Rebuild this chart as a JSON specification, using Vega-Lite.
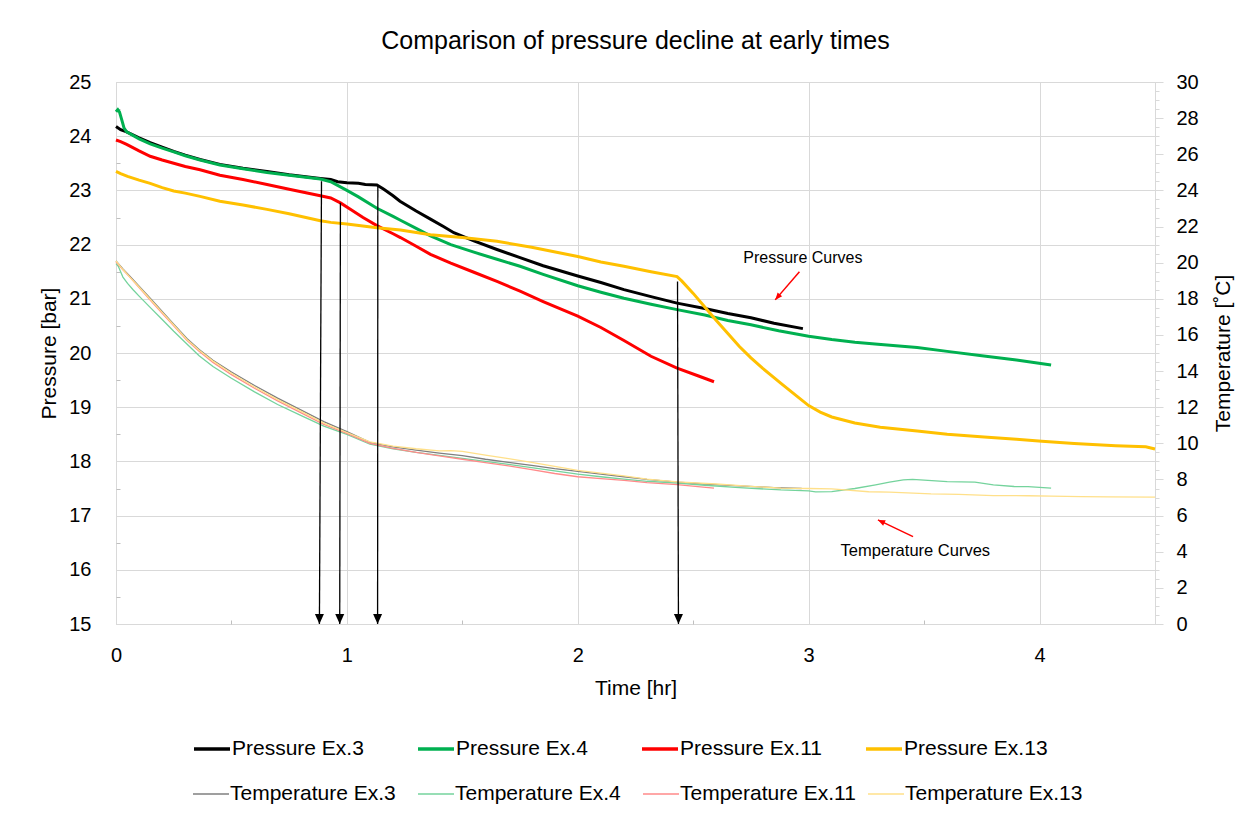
{
  "$schema": "https://vega.github.io/schema/vega-lite/v6.json",
  "width": 1039,
  "height": 542,
  "autosize": {"type": "none"},
  "padding": {"left": 116, "top": 82, "right": 103, "bottom": 194},
  "background": "#ffffff",
  "title": {"text": "Comparison of pressure decline at early times", "fontSize": 25, "fontWeight": "normal", "color": "#000000", "anchor": "middle", "frame": "group", "offset": 18},
  "datasets": {
    "pressure": [
      {"series": "Pressure Ex.3", "t": 0, "v": 24.18}, {"series": "Pressure Ex.3", "t": 0.02, "v": 24.12}, {"series": "Pressure Ex.3", "t": 0.046, "v": 24.08}, {"series": "Pressure Ex.3", "t": 0.1, "v": 23.97}, {"series": "Pressure Ex.3", "t": 0.148, "v": 23.88}, {"series": "Pressure Ex.3", "t": 0.2, "v": 23.8}, {"series": "Pressure Ex.3", "t": 0.25, "v": 23.72}, {"series": "Pressure Ex.3", "t": 0.3, "v": 23.65}, {"series": "Pressure Ex.3", "t": 0.364, "v": 23.57}, {"series": "Pressure Ex.3", "t": 0.45, "v": 23.48}, {"series": "Pressure Ex.3", "t": 0.55, "v": 23.41}, {"series": "Pressure Ex.3", "t": 0.654, "v": 23.35}, {"series": "Pressure Ex.3", "t": 0.75, "v": 23.29}, {"series": "Pressure Ex.3", "t": 0.885, "v": 23.22}, {"series": "Pressure Ex.3", "t": 0.93, "v": 23.2}, {"series": "Pressure Ex.3", "t": 0.96, "v": 23.16}, {"series": "Pressure Ex.3", "t": 1.0, "v": 23.14}, {"series": "Pressure Ex.3", "t": 1.05, "v": 23.13}, {"series": "Pressure Ex.3", "t": 1.08, "v": 23.11}, {"series": "Pressure Ex.3", "t": 1.13, "v": 23.1}, {"series": "Pressure Ex.3", "t": 1.16, "v": 23.02}, {"series": "Pressure Ex.3", "t": 1.2, "v": 22.9}, {"series": "Pressure Ex.3", "t": 1.23, "v": 22.8}, {"series": "Pressure Ex.3", "t": 1.3, "v": 22.62}, {"series": "Pressure Ex.3", "t": 1.362, "v": 22.47}, {"series": "Pressure Ex.3", "t": 1.42, "v": 22.33}, {"series": "Pressure Ex.3", "t": 1.463, "v": 22.22}, {"series": "Pressure Ex.3", "t": 1.55, "v": 22.07}, {"series": "Pressure Ex.3", "t": 1.65, "v": 21.91}, {"series": "Pressure Ex.3", "t": 1.75, "v": 21.76}, {"series": "Pressure Ex.3", "t": 1.85, "v": 21.61}, {"series": "Pressure Ex.3", "t": 2.0, "v": 21.42}, {"series": "Pressure Ex.3", "t": 2.1, "v": 21.3}, {"series": "Pressure Ex.3", "t": 2.2, "v": 21.17}, {"series": "Pressure Ex.3", "t": 2.317, "v": 21.04}, {"series": "Pressure Ex.3", "t": 2.43, "v": 20.92}, {"series": "Pressure Ex.3", "t": 2.55, "v": 20.82}, {"series": "Pressure Ex.3", "t": 2.65, "v": 20.73}, {"series": "Pressure Ex.3", "t": 2.75, "v": 20.65}, {"series": "Pressure Ex.3", "t": 2.85, "v": 20.55}, {"series": "Pressure Ex.3", "t": 2.975, "v": 20.45},
      {"series": "Pressure Ex.4", "t": 0, "v": 24.45}, {"series": "Pressure Ex.4", "t": 0.008, "v": 24.49}, {"series": "Pressure Ex.4", "t": 0.015, "v": 24.45}, {"series": "Pressure Ex.4", "t": 0.025, "v": 24.3}, {"series": "Pressure Ex.4", "t": 0.035, "v": 24.15}, {"series": "Pressure Ex.4", "t": 0.046, "v": 24.08}, {"series": "Pressure Ex.4", "t": 0.1, "v": 23.95}, {"series": "Pressure Ex.4", "t": 0.148, "v": 23.86}, {"series": "Pressure Ex.4", "t": 0.2, "v": 23.78}, {"series": "Pressure Ex.4", "t": 0.25, "v": 23.71}, {"series": "Pressure Ex.4", "t": 0.3, "v": 23.64}, {"series": "Pressure Ex.4", "t": 0.364, "v": 23.56}, {"series": "Pressure Ex.4", "t": 0.45, "v": 23.47}, {"series": "Pressure Ex.4", "t": 0.55, "v": 23.4}, {"series": "Pressure Ex.4", "t": 0.654, "v": 23.33}, {"series": "Pressure Ex.4", "t": 0.75, "v": 23.28}, {"series": "Pressure Ex.4", "t": 0.885, "v": 23.21}, {"series": "Pressure Ex.4", "t": 0.93, "v": 23.16}, {"series": "Pressure Ex.4", "t": 1.0, "v": 23.0}, {"series": "Pressure Ex.4", "t": 1.05, "v": 22.88}, {"series": "Pressure Ex.4", "t": 1.13, "v": 22.67}, {"series": "Pressure Ex.4", "t": 1.2, "v": 22.52}, {"series": "Pressure Ex.4", "t": 1.232, "v": 22.45}, {"series": "Pressure Ex.4", "t": 1.3, "v": 22.3}, {"series": "Pressure Ex.4", "t": 1.362, "v": 22.16}, {"series": "Pressure Ex.4", "t": 1.45, "v": 22.0}, {"series": "Pressure Ex.4", "t": 1.55, "v": 21.86}, {"series": "Pressure Ex.4", "t": 1.65, "v": 21.73}, {"series": "Pressure Ex.4", "t": 1.75, "v": 21.6}, {"series": "Pressure Ex.4", "t": 1.85, "v": 21.45}, {"series": "Pressure Ex.4", "t": 2.0, "v": 21.24}, {"series": "Pressure Ex.4", "t": 2.1, "v": 21.12}, {"series": "Pressure Ex.4", "t": 2.2, "v": 21.01}, {"series": "Pressure Ex.4", "t": 2.317, "v": 20.9}, {"series": "Pressure Ex.4", "t": 2.43, "v": 20.8}, {"series": "Pressure Ex.4", "t": 2.55, "v": 20.7}, {"series": "Pressure Ex.4", "t": 2.65, "v": 20.6}, {"series": "Pressure Ex.4", "t": 2.75, "v": 20.52}, {"series": "Pressure Ex.4", "t": 2.87, "v": 20.41}, {"series": "Pressure Ex.4", "t": 3.0, "v": 20.31}, {"series": "Pressure Ex.4", "t": 3.1, "v": 20.25}, {"series": "Pressure Ex.4", "t": 3.2, "v": 20.2}, {"series": "Pressure Ex.4", "t": 3.3, "v": 20.16}, {"series": "Pressure Ex.4", "t": 3.47, "v": 20.1}, {"series": "Pressure Ex.4", "t": 3.6, "v": 20.03}, {"series": "Pressure Ex.4", "t": 3.75, "v": 19.95}, {"series": "Pressure Ex.4", "t": 3.9, "v": 19.87}, {"series": "Pressure Ex.4", "t": 4.05, "v": 19.78},
      {"series": "Pressure Ex.11", "t": 0, "v": 23.93}, {"series": "Pressure Ex.11", "t": 0.02, "v": 23.9}, {"series": "Pressure Ex.11", "t": 0.046, "v": 23.85}, {"series": "Pressure Ex.11", "t": 0.1, "v": 23.73}, {"series": "Pressure Ex.11", "t": 0.148, "v": 23.63}, {"series": "Pressure Ex.11", "t": 0.2, "v": 23.56}, {"series": "Pressure Ex.11", "t": 0.25, "v": 23.5}, {"series": "Pressure Ex.11", "t": 0.3, "v": 23.44}, {"series": "Pressure Ex.11", "t": 0.364, "v": 23.38}, {"series": "Pressure Ex.11", "t": 0.45, "v": 23.28}, {"series": "Pressure Ex.11", "t": 0.55, "v": 23.2}, {"series": "Pressure Ex.11", "t": 0.654, "v": 23.11}, {"series": "Pressure Ex.11", "t": 0.75, "v": 23.02}, {"series": "Pressure Ex.11", "t": 0.885, "v": 22.9}, {"series": "Pressure Ex.11", "t": 0.93, "v": 22.86}, {"series": "Pressure Ex.11", "t": 0.972, "v": 22.77}, {"series": "Pressure Ex.11", "t": 1.02, "v": 22.64}, {"series": "Pressure Ex.11", "t": 1.07, "v": 22.5}, {"series": "Pressure Ex.11", "t": 1.13, "v": 22.35}, {"series": "Pressure Ex.11", "t": 1.2, "v": 22.2}, {"series": "Pressure Ex.11", "t": 1.232, "v": 22.13}, {"series": "Pressure Ex.11", "t": 1.3, "v": 21.97}, {"series": "Pressure Ex.11", "t": 1.362, "v": 21.82}, {"series": "Pressure Ex.11", "t": 1.45, "v": 21.66}, {"series": "Pressure Ex.11", "t": 1.55, "v": 21.49}, {"series": "Pressure Ex.11", "t": 1.65, "v": 21.32}, {"series": "Pressure Ex.11", "t": 1.75, "v": 21.14}, {"series": "Pressure Ex.11", "t": 1.85, "v": 20.95}, {"series": "Pressure Ex.11", "t": 2.0, "v": 20.68}, {"series": "Pressure Ex.11", "t": 2.1, "v": 20.47}, {"series": "Pressure Ex.11", "t": 2.2, "v": 20.23}, {"series": "Pressure Ex.11", "t": 2.317, "v": 19.94}, {"series": "Pressure Ex.11", "t": 2.43, "v": 19.72}, {"series": "Pressure Ex.11", "t": 2.52, "v": 19.58}, {"series": "Pressure Ex.11", "t": 2.59, "v": 19.47},
      {"series": "Pressure Ex.13", "t": 0, "v": 23.35}, {"series": "Pressure Ex.13", "t": 0.02, "v": 23.31}, {"series": "Pressure Ex.13", "t": 0.05, "v": 23.26}, {"series": "Pressure Ex.13", "t": 0.1, "v": 23.19}, {"series": "Pressure Ex.13", "t": 0.148, "v": 23.13}, {"series": "Pressure Ex.13", "t": 0.2, "v": 23.05}, {"series": "Pressure Ex.13", "t": 0.25, "v": 22.99}, {"series": "Pressure Ex.13", "t": 0.3, "v": 22.95}, {"series": "Pressure Ex.13", "t": 0.364, "v": 22.89}, {"series": "Pressure Ex.13", "t": 0.45, "v": 22.8}, {"series": "Pressure Ex.13", "t": 0.55, "v": 22.73}, {"series": "Pressure Ex.13", "t": 0.654, "v": 22.65}, {"series": "Pressure Ex.13", "t": 0.75, "v": 22.57}, {"series": "Pressure Ex.13", "t": 0.885, "v": 22.44}, {"series": "Pressure Ex.13", "t": 0.93, "v": 22.41}, {"series": "Pressure Ex.13", "t": 1.0, "v": 22.38}, {"series": "Pressure Ex.13", "t": 1.13, "v": 22.31}, {"series": "Pressure Ex.13", "t": 1.232, "v": 22.27}, {"series": "Pressure Ex.13", "t": 1.362, "v": 22.18}, {"series": "Pressure Ex.13", "t": 1.5, "v": 22.13}, {"series": "Pressure Ex.13", "t": 1.65, "v": 22.06}, {"series": "Pressure Ex.13", "t": 1.8, "v": 21.95}, {"series": "Pressure Ex.13", "t": 2.0, "v": 21.78}, {"series": "Pressure Ex.13", "t": 2.1, "v": 21.68}, {"series": "Pressure Ex.13", "t": 2.2, "v": 21.6}, {"series": "Pressure Ex.13", "t": 2.317, "v": 21.5}, {"series": "Pressure Ex.13", "t": 2.43, "v": 21.41}, {"series": "Pressure Ex.13", "t": 2.45, "v": 21.33}, {"series": "Pressure Ex.13", "t": 2.5, "v": 21.1}, {"series": "Pressure Ex.13", "t": 2.55, "v": 20.85}, {"series": "Pressure Ex.13", "t": 2.6, "v": 20.6}, {"series": "Pressure Ex.13", "t": 2.65, "v": 20.36}, {"series": "Pressure Ex.13", "t": 2.7, "v": 20.12}, {"series": "Pressure Ex.13", "t": 2.75, "v": 19.91}, {"series": "Pressure Ex.13", "t": 2.8, "v": 19.72}, {"series": "Pressure Ex.13", "t": 2.88, "v": 19.44}, {"series": "Pressure Ex.13", "t": 2.95, "v": 19.2}, {"series": "Pressure Ex.13", "t": 3.0, "v": 19.03}, {"series": "Pressure Ex.13", "t": 3.05, "v": 18.91}, {"series": "Pressure Ex.13", "t": 3.1, "v": 18.82}, {"series": "Pressure Ex.13", "t": 3.2, "v": 18.71}, {"series": "Pressure Ex.13", "t": 3.31, "v": 18.63}, {"series": "Pressure Ex.13", "t": 3.47, "v": 18.56}, {"series": "Pressure Ex.13", "t": 3.6, "v": 18.5}, {"series": "Pressure Ex.13", "t": 3.76, "v": 18.45}, {"series": "Pressure Ex.13", "t": 3.9, "v": 18.41}, {"series": "Pressure Ex.13", "t": 4.01, "v": 18.37}, {"series": "Pressure Ex.13", "t": 4.15, "v": 18.33}, {"series": "Pressure Ex.13", "t": 4.33, "v": 18.29}, {"series": "Pressure Ex.13", "t": 4.46, "v": 18.27}, {"series": "Pressure Ex.13", "t": 4.5, "v": 18.23}
    ],
    "temperature": [
      {"series": "Temperature Ex.3", "t": 0, "v": 20.1}, {"series": "Temperature Ex.3", "t": 0.03, "v": 19.65}, {"series": "Temperature Ex.3", "t": 0.06, "v": 19.25}, {"series": "Temperature Ex.3", "t": 0.1, "v": 18.7}, {"series": "Temperature Ex.3", "t": 0.15, "v": 18.0}, {"series": "Temperature Ex.3", "t": 0.2, "v": 17.3}, {"series": "Temperature Ex.3", "t": 0.25, "v": 16.6}, {"series": "Temperature Ex.3", "t": 0.307, "v": 15.8}, {"series": "Temperature Ex.3", "t": 0.36, "v": 15.2}, {"series": "Temperature Ex.3", "t": 0.42, "v": 14.6}, {"series": "Temperature Ex.3", "t": 0.5, "v": 13.95}, {"series": "Temperature Ex.3", "t": 0.6, "v": 13.2}, {"series": "Temperature Ex.3", "t": 0.7, "v": 12.5}, {"series": "Temperature Ex.3", "t": 0.8, "v": 11.85}, {"series": "Temperature Ex.3", "t": 0.9, "v": 11.2}, {"series": "Temperature Ex.3", "t": 1.0, "v": 10.65}, {"series": "Temperature Ex.3", "t": 1.1, "v": 10.05}, {"series": "Temperature Ex.3", "t": 1.2, "v": 9.8}, {"series": "Temperature Ex.3", "t": 1.3, "v": 9.62}, {"series": "Temperature Ex.3", "t": 1.4, "v": 9.46}, {"series": "Temperature Ex.3", "t": 1.5, "v": 9.32}, {"series": "Temperature Ex.3", "t": 1.6, "v": 9.12}, {"series": "Temperature Ex.3", "t": 1.7, "v": 8.95}, {"series": "Temperature Ex.3", "t": 1.8, "v": 8.78}, {"series": "Temperature Ex.3", "t": 1.9, "v": 8.6}, {"series": "Temperature Ex.3", "t": 2.0, "v": 8.45}, {"series": "Temperature Ex.3", "t": 2.1, "v": 8.3}, {"series": "Temperature Ex.3", "t": 2.2, "v": 8.15}, {"series": "Temperature Ex.3", "t": 2.3, "v": 8.0}, {"series": "Temperature Ex.3", "t": 2.43, "v": 7.85}, {"series": "Temperature Ex.3", "t": 2.55, "v": 7.75}, {"series": "Temperature Ex.3", "t": 2.7, "v": 7.65}, {"series": "Temperature Ex.3", "t": 2.85, "v": 7.55}, {"series": "Temperature Ex.3", "t": 2.97, "v": 7.5},
      {"series": "Temperature Ex.4", "t": 0, "v": 19.95}, {"series": "Temperature Ex.4", "t": 0.01, "v": 19.8}, {"series": "Temperature Ex.4", "t": 0.02, "v": 19.5}, {"series": "Temperature Ex.4", "t": 0.03, "v": 19.2}, {"series": "Temperature Ex.4", "t": 0.05, "v": 18.85}, {"series": "Temperature Ex.4", "t": 0.074, "v": 18.5}, {"series": "Temperature Ex.4", "t": 0.1, "v": 18.15}, {"series": "Temperature Ex.4", "t": 0.15, "v": 17.5}, {"series": "Temperature Ex.4", "t": 0.2, "v": 16.85}, {"series": "Temperature Ex.4", "t": 0.25, "v": 16.2}, {"series": "Temperature Ex.4", "t": 0.307, "v": 15.5}, {"series": "Temperature Ex.4", "t": 0.36, "v": 14.85}, {"series": "Temperature Ex.4", "t": 0.42, "v": 14.25}, {"series": "Temperature Ex.4", "t": 0.5, "v": 13.6}, {"series": "Temperature Ex.4", "t": 0.6, "v": 12.85}, {"series": "Temperature Ex.4", "t": 0.7, "v": 12.15}, {"series": "Temperature Ex.4", "t": 0.8, "v": 11.55}, {"series": "Temperature Ex.4", "t": 0.9, "v": 10.95}, {"series": "Temperature Ex.4", "t": 1.0, "v": 10.5}, {"series": "Temperature Ex.4", "t": 1.1, "v": 9.95}, {"series": "Temperature Ex.4", "t": 1.2, "v": 9.7}, {"series": "Temperature Ex.4", "t": 1.3, "v": 9.5}, {"series": "Temperature Ex.4", "t": 1.4, "v": 9.33}, {"series": "Temperature Ex.4", "t": 1.5, "v": 9.17}, {"series": "Temperature Ex.4", "t": 1.6, "v": 9.0}, {"series": "Temperature Ex.4", "t": 1.7, "v": 8.83}, {"series": "Temperature Ex.4", "t": 1.8, "v": 8.65}, {"series": "Temperature Ex.4", "t": 1.9, "v": 8.48}, {"series": "Temperature Ex.4", "t": 2.0, "v": 8.3}, {"series": "Temperature Ex.4", "t": 2.1, "v": 8.15}, {"series": "Temperature Ex.4", "t": 2.2, "v": 8.02}, {"series": "Temperature Ex.4", "t": 2.3, "v": 7.9}, {"series": "Temperature Ex.4", "t": 2.43, "v": 7.8}, {"series": "Temperature Ex.4", "t": 2.55, "v": 7.68}, {"series": "Temperature Ex.4", "t": 2.7, "v": 7.55}, {"series": "Temperature Ex.4", "t": 2.88, "v": 7.42}, {"series": "Temperature Ex.4", "t": 3.0, "v": 7.37}, {"series": "Temperature Ex.4", "t": 3.03, "v": 7.31}, {"series": "Temperature Ex.4", "t": 3.1, "v": 7.33}, {"series": "Temperature Ex.4", "t": 3.2, "v": 7.5}, {"series": "Temperature Ex.4", "t": 3.29, "v": 7.7}, {"series": "Temperature Ex.4", "t": 3.35, "v": 7.85}, {"series": "Temperature Ex.4", "t": 3.41, "v": 7.98}, {"series": "Temperature Ex.4", "t": 3.45, "v": 8.0}, {"series": "Temperature Ex.4", "t": 3.6, "v": 7.88}, {"series": "Temperature Ex.4", "t": 3.72, "v": 7.85}, {"series": "Temperature Ex.4", "t": 3.8, "v": 7.7}, {"series": "Temperature Ex.4", "t": 3.89, "v": 7.61}, {"series": "Temperature Ex.4", "t": 3.95, "v": 7.6}, {"series": "Temperature Ex.4", "t": 4.05, "v": 7.52},
      {"series": "Temperature Ex.11", "t": 0, "v": 20.05}, {"series": "Temperature Ex.11", "t": 0.03, "v": 19.6}, {"series": "Temperature Ex.11", "t": 0.06, "v": 19.2}, {"series": "Temperature Ex.11", "t": 0.1, "v": 18.62}, {"series": "Temperature Ex.11", "t": 0.15, "v": 17.9}, {"series": "Temperature Ex.11", "t": 0.2, "v": 17.2}, {"series": "Temperature Ex.11", "t": 0.25, "v": 16.5}, {"series": "Temperature Ex.11", "t": 0.307, "v": 15.7}, {"series": "Temperature Ex.11", "t": 0.36, "v": 15.1}, {"series": "Temperature Ex.11", "t": 0.42, "v": 14.48}, {"series": "Temperature Ex.11", "t": 0.5, "v": 13.8}, {"series": "Temperature Ex.11", "t": 0.6, "v": 13.05}, {"series": "Temperature Ex.11", "t": 0.7, "v": 12.35}, {"series": "Temperature Ex.11", "t": 0.8, "v": 11.7}, {"series": "Temperature Ex.11", "t": 0.9, "v": 11.05}, {"series": "Temperature Ex.11", "t": 1.0, "v": 10.55}, {"series": "Temperature Ex.11", "t": 1.1, "v": 10.0}, {"series": "Temperature Ex.11", "t": 1.2, "v": 9.72}, {"series": "Temperature Ex.11", "t": 1.3, "v": 9.5}, {"series": "Temperature Ex.11", "t": 1.4, "v": 9.3}, {"series": "Temperature Ex.11", "t": 1.5, "v": 9.12}, {"series": "Temperature Ex.11", "t": 1.6, "v": 8.93}, {"series": "Temperature Ex.11", "t": 1.7, "v": 8.75}, {"series": "Temperature Ex.11", "t": 1.8, "v": 8.55}, {"series": "Temperature Ex.11", "t": 1.9, "v": 8.33}, {"series": "Temperature Ex.11", "t": 2.0, "v": 8.15}, {"series": "Temperature Ex.11", "t": 2.1, "v": 8.05}, {"series": "Temperature Ex.11", "t": 2.2, "v": 7.95}, {"series": "Temperature Ex.11", "t": 2.3, "v": 7.83}, {"series": "Temperature Ex.11", "t": 2.43, "v": 7.72}, {"series": "Temperature Ex.11", "t": 2.52, "v": 7.6}, {"series": "Temperature Ex.11", "t": 2.59, "v": 7.52},
      {"series": "Temperature Ex.13", "t": 0, "v": 20.1}, {"series": "Temperature Ex.13", "t": 0.03, "v": 19.62}, {"series": "Temperature Ex.13", "t": 0.06, "v": 19.2}, {"series": "Temperature Ex.13", "t": 0.1, "v": 18.65}, {"series": "Temperature Ex.13", "t": 0.15, "v": 17.95}, {"series": "Temperature Ex.13", "t": 0.2, "v": 17.25}, {"series": "Temperature Ex.13", "t": 0.25, "v": 16.55}, {"series": "Temperature Ex.13", "t": 0.307, "v": 15.75}, {"series": "Temperature Ex.13", "t": 0.36, "v": 15.15}, {"series": "Temperature Ex.13", "t": 0.42, "v": 14.55}, {"series": "Temperature Ex.13", "t": 0.5, "v": 13.88}, {"series": "Temperature Ex.13", "t": 0.6, "v": 13.12}, {"series": "Temperature Ex.13", "t": 0.7, "v": 12.42}, {"series": "Temperature Ex.13", "t": 0.8, "v": 11.78}, {"series": "Temperature Ex.13", "t": 0.9, "v": 11.12}, {"series": "Temperature Ex.13", "t": 1.0, "v": 10.6}, {"series": "Temperature Ex.13", "t": 1.1, "v": 10.08}, {"series": "Temperature Ex.13", "t": 1.2, "v": 9.85}, {"series": "Temperature Ex.13", "t": 1.3, "v": 9.7}, {"series": "Temperature Ex.13", "t": 1.4, "v": 9.58}, {"series": "Temperature Ex.13", "t": 1.45, "v": 9.6}, {"series": "Temperature Ex.13", "t": 1.5, "v": 9.55}, {"series": "Temperature Ex.13", "t": 1.6, "v": 9.35}, {"series": "Temperature Ex.13", "t": 1.7, "v": 9.15}, {"series": "Temperature Ex.13", "t": 1.8, "v": 8.95}, {"series": "Temperature Ex.13", "t": 1.9, "v": 8.72}, {"series": "Temperature Ex.13", "t": 2.0, "v": 8.5}, {"series": "Temperature Ex.13", "t": 2.1, "v": 8.35}, {"series": "Temperature Ex.13", "t": 2.2, "v": 8.2}, {"series": "Temperature Ex.13", "t": 2.3, "v": 8.02}, {"series": "Temperature Ex.13", "t": 2.43, "v": 7.87}, {"series": "Temperature Ex.13", "t": 2.6, "v": 7.75}, {"series": "Temperature Ex.13", "t": 2.75, "v": 7.62}, {"series": "Temperature Ex.13", "t": 2.88, "v": 7.52}, {"series": "Temperature Ex.13", "t": 3.0, "v": 7.5}, {"series": "Temperature Ex.13", "t": 3.1, "v": 7.48}, {"series": "Temperature Ex.13", "t": 3.26, "v": 7.32}, {"series": "Temperature Ex.13", "t": 3.35, "v": 7.3}, {"series": "Temperature Ex.13", "t": 3.53, "v": 7.2}, {"series": "Temperature Ex.13", "t": 3.65, "v": 7.18}, {"series": "Temperature Ex.13", "t": 3.8, "v": 7.11}, {"series": "Temperature Ex.13", "t": 3.95, "v": 7.1}, {"series": "Temperature Ex.13", "t": 4.05, "v": 7.08}, {"series": "Temperature Ex.13", "t": 4.18, "v": 7.05}, {"series": "Temperature Ex.13", "t": 4.3, "v": 7.04}, {"series": "Temperature Ex.13", "t": 4.5, "v": 7.02}
    ],
    "drops": [
      {"t": 0.89, "tb": 0.881, "top": 23.17, "bottom": 15},
      {"t": 0.972, "tb": 0.969, "top": 22.77, "bottom": 15},
      {"t": 1.134, "tb": 1.133, "top": 23.08, "bottom": 15},
      {"t": 2.432, "tb": 2.436, "top": 21.32, "bottom": 15}
    ]
  },
  "layer": [
    {
      "data": {"name": "temperature"},
      "mark": {"type": "line", "strokeWidth": 1.3},
      "encoding": {
        "x": {"field": "t", "type": "quantitative", "scale": {"domain": [0, 4.5], "nice": false, "zero": false}, "axis": null},
        "y": {"field": "v", "type": "quantitative", "scale": {"domain": [0, 30], "nice": false, "zero": false},
          "axis": {"orient": "right", "values": [0, 2, 4, 6, 8, 10, 12, 14, 16, 18, 20, 22, 24, 26, 28, 30], "grid": false, "ticks": true, "tickSize": 8, "labelPadding": 13, "title": "Temperature [˚C]", "titleAngle": -90, "titleBaseline": "top", "titlePadding": 14}},
        "stroke": {"field": "series", "type": "nominal",
          "scale": {"domain": ["Temperature Ex.3", "Temperature Ex.4", "Temperature Ex.11", "Temperature Ex.13"], "range": ["#7f7f7f", "#74d39c", "#ff8a8a", "#ffe08a"]},
          "legend": {"orient": "none", "legendX": 76, "legendY": 693, "direction": "horizontal", "columns": 4, "title": null,
            "symbolType": "stroke", "symbolSize": 1296, "symbolStrokeWidth": 1.4, "labelFontSize": 21, "labelOffset": 0, "labelLimit": 400,
            "columnPadding": 7, "gridAlign": "all", "labelColor": "#000000"}}
      }
    },
    {
      "data": {"name": "pressure"},
      "mark": {"type": "line", "strokeWidth": 3},
      "encoding": {
        "x": {"field": "t", "type": "quantitative", "scale": {"domain": [0, 4.5], "nice": false, "zero": false},
          "axis": {"orient": "bottom", "values": [0, 1, 2, 3, 4], "grid": true, "ticks": false, "labelFlush": false, "labelPadding": 21, "title": "Time [hr]", "titlePadding": 12}},
        "y": {"field": "v", "type": "quantitative", "scale": {"domain": [15, 25], "nice": false, "zero": false},
          "axis": {"orient": "left", "values": [15, 16, 17, 18, 19, 20, 21, 22, 23, 24, 25], "grid": true, "ticks": false, "labelPadding": 25, "title": "Pressure [bar]", "titlePadding": 9}},
        "color": {"field": "series", "type": "nominal",
          "scale": {"domain": ["Pressure Ex.3", "Pressure Ex.4", "Pressure Ex.11", "Pressure Ex.13"], "range": ["#000000", "#00b050", "#ff0000", "#ffc000"]},
          "legend": {"orient": "none", "legendX": 76, "legendY": 647, "direction": "horizontal", "columns": 4, "title": null,
            "symbolType": "stroke", "symbolSize": 1296, "symbolStrokeWidth": 3.5, "labelFontSize": 21, "labelOffset": 0, "labelLimit": 400,
            "columnPadding": 35, "gridAlign": "all", "labelColor": "#000000"}}
      }
    },
    {
      "data": {"name": "drops"},
      "mark": {"type": "rule", "color": "#000000", "strokeWidth": 1.3},
      "encoding": {
        "x": {"field": "t", "type": "quantitative", "axis": {"orient": "bottom", "values": [0.5, 1.5, 2.5, 3.5], "labels": false, "grid": false, "domain": false, "ticks": true, "tickSize": -4, "tickColor": "#bfbfbf", "title": null}},
        "x2": {"field": "tb"},
        "y": {"field": "top", "type": "quantitative", "scale": {"domain": [15, 25], "nice": false, "zero": false},
          "axis": {"orient": "left", "values": [15.5, 16.5, 17.5, 18.5, 19.5, 20.5, 21.5, 22.5, 23.5, 24.5], "labels": false, "grid": false, "domain": false, "ticks": true, "tickSize": -4, "tickColor": "#bfbfbf", "title": null}},
        "y2": {"field": "bottom"}
      }
    },
    {
      "data": {"name": "drops"},
      "mark": {"type": "point", "shape": "M -1 -2.2 L 1 -2.2 L 0 0 Z", "size": 81, "filled": true, "color": "#000000", "opacity": 1, "strokeWidth": 0},
      "encoding": {
        "x": {"field": "tb", "type": "quantitative", "axis": null},
        "y": {"field": "bottom", "type": "quantitative", "scale": {"domain": [15, 25], "nice": false, "zero": false}, "axis": null}
      }
    },
    {
      "data": {"values": [{"t1": 2.96, "v1": 21.5, "t2": 2.855, "v2": 20.98}]},
      "mark": {"type": "rule", "color": "#ff0000", "strokeWidth": 1.5},
      "encoding": {
        "x": {"field": "t1", "type": "quantitative", "axis": null},
        "x2": {"field": "t2"},
        "y": {"field": "v1", "type": "quantitative", "scale": {"domain": [15, 25], "nice": false, "zero": false}, "axis": null},
        "y2": {"field": "v2"}
      }
    },
    {
      "data": {"values": [{"t2": 2.855, "v2": 20.98}]},
      "mark": {"type": "point", "shape": "M 0 0 L 1 2.4 L -1 2.4 Z", "size": 36, "angle": 220.6, "filled": true, "color": "#ff0000", "opacity": 1, "strokeWidth": 0},
      "encoding": {
        "x": {"field": "t2", "type": "quantitative", "axis": null},
        "y": {"field": "v2", "type": "quantitative", "scale": {"domain": [15, 25], "nice": false, "zero": false}, "axis": null}
      }
    },
    {
      "data": {"values": [{"label": "Pressure Curves", "t": 2.975, "v": 21.76}]},
      "mark": {"type": "text", "fontSize": 16, "color": "#000000", "align": "center", "baseline": "middle"},
      "encoding": {
        "x": {"field": "t", "type": "quantitative", "axis": null},
        "y": {"field": "v", "type": "quantitative", "scale": {"domain": [15, 25], "nice": false, "zero": false}, "axis": null},
        "text": {"field": "label"}
      }
    },
    {
      "data": {"values": [{"t1": 3.452, "v1": 4.84, "t2": 3.3, "v2": 5.76}]},
      "mark": {"type": "rule", "color": "#ff0000", "strokeWidth": 1.5},
      "encoding": {
        "x": {"field": "t1", "type": "quantitative", "axis": null},
        "x2": {"field": "t2"},
        "y": {"field": "v1", "type": "quantitative", "scale": {"domain": [0, 30], "nice": false, "zero": false},
          "axis": {"orient": "right", "values": [0.5, 1, 1.5, 2.5, 3, 3.5, 4.5, 5, 5.5, 6.5, 7, 7.5, 8.5, 9, 9.5, 10.5, 11, 11.5, 12.5, 13, 13.5, 14.5, 15, 15.5, 16.5, 17, 17.5, 18.5, 19, 19.5, 20.5, 21, 21.5, 22.5, 23, 23.5, 24.5, 25, 25.5, 26.5, 27, 27.5, 28.5, 29, 29.5], "labels": false, "grid": false, "domain": false, "ticks": true, "tickSize": 4, "title": null}},
        "y2": {"field": "v2"}
      }
    },
    {
      "data": {"values": [{"t2": 3.3, "v2": 5.76}]},
      "mark": {"type": "point", "shape": "M 0 0 L 1 2.4 L -1 2.4 Z", "size": 36, "angle": 295.5, "filled": true, "color": "#ff0000", "opacity": 1, "strokeWidth": 0},
      "encoding": {
        "x": {"field": "t2", "type": "quantitative", "axis": null},
        "y": {"field": "v2", "type": "quantitative", "scale": {"domain": [0, 30], "nice": false, "zero": false}, "axis": null}
      }
    },
    {
      "data": {"values": [{"label": "Temperature Curves", "t": 3.462, "v": 4.04}]},
      "mark": {"type": "text", "fontSize": 16.5, "color": "#000000", "align": "center", "baseline": "middle"},
      "encoding": {
        "x": {"field": "t", "type": "quantitative", "axis": null},
        "y": {"field": "v", "type": "quantitative", "scale": {"domain": [0, 30], "nice": false, "zero": false}, "axis": null},
        "text": {"field": "label"}
      }
    }
  ],
  "resolve": {"scale": {"y": "independent"}, "axis": {"x": "independent", "y": "independent"}},
  "config": {
    "font": "Liberation Sans",
    "view": {"stroke": "#d9d9d9", "strokeWidth": 1},
    "axis": {"labelColor": "#000000", "titleColor": "#000000", "labelFontSize": 20, "titleFontSize": 21, "titleFontWeight": "normal", "domainColor": "#d9d9d9", "tickColor": "#d9d9d9", "gridColor": "#d9d9d9", "labelFont": "Liberation Sans", "titleFont": "Liberation Sans"},
    "legend": {"labelFont": "Liberation Sans"}
  }
}
